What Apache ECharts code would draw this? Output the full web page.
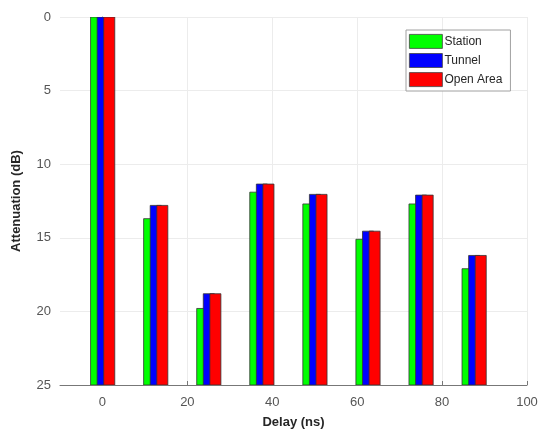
<!DOCTYPE html>
<html>
<head>
<meta charset="utf-8">
<script src="https://cdn.jsdelivr.net/npm/echarts@6/dist/echarts.min.js"></script>
<style>html,body{margin:0;padding:0;background:#fff;}#c{width:538px;height:430px;}</style>
</head>
<body>
<div id="c"></div>
<script>
const delays = [0, 12.5, 25, 37.5, 50, 62.5, 75, 87.5];
const station = [0, 13.7, 19.8, 11.9, 12.7, 15.1, 12.7, 17.1];
const tunnel = [0, 12.8, 18.8, 11.35, 12.05, 14.55, 12.1, 16.2];
const openArea = [0, 12.8, 18.8, 11.35, 12.05, 14.55, 12.1, 16.2];
const xTicks = [0, 20, 40, 60, 80, 100];
const seriesNames = ['Station', 'Tunnel', 'Open Area'];

const colors = ['#00ff00', '#0000ff', '#ff0000'];
const offsets = [-1.5, 0.05, 1.6];
const barW = 2.6;
const yMax = 25;

function makeSeries(name, vals, idx) {
  return {
    name: name,
    type: 'custom',
    clip: true,
    itemStyle: { color: colors[idx], borderColor: '#333', borderWidth: 0.8 },
    data: delays.map((d, i) => [d, vals[i]]),
    encode: { x: 0, y: 1 },
    renderItem: function (params, api) {
      const x = api.value(0), v = api.value(1);
      const p1 = api.coord([x + offsets[idx] - barW / 2, v]);
      const p2 = api.coord([x + offsets[idx] + barW / 2, yMax]);
      return {
        type: 'rect',
        shape: { x: p1[0], y: p1[1], width: p2[0] - p1[0], height: p2[1] - p1[1] },
        style: { fill: colors[idx], stroke: '#333', lineWidth: 0.8 }
      };
    }
  };
}

const chart = echarts.init(document.getElementById('c'), null, { renderer: 'canvas' });
chart.setOption({
  animation: false,
  backgroundColor: '#fff',
  textStyle: { fontFamily: 'Liberation Sans, Arial, sans-serif' },
  grid: { left: 60, top: 17, right: 11, bottom: 45, containLabel: false, outerBoundsMode: 'none' },
  legend: {
    data: seriesNames,
    orient: 'vertical',
    left: 406,
    top: 30,
    itemWidth: 33,
    itemHeight: 14,
    itemGap: 4.3,
    padding: [4, 8, 4, 3],
    icon: 'rect',
    backgroundColor: '#fff',
    borderColor: '#a0a0a0',
    borderWidth: 1,
    itemStyle: { borderColor: '#444', borderWidth: 0.8 },
    textStyle: { fontSize: 12, color: '#262626', lineHeight: 14, padding: [0, 0, 0, -3] }
  },
  xAxis: {
    type: 'value',
    min: -10,
    max: 100,
    name: 'Delay (ns)',
    nameLocation: 'middle',
    nameGap: 31,
    nameTextStyle: { fontWeight: 'bold', fontSize: 13, color: '#262626' },
    axisLine: { show: true, onZero: false, lineStyle: { color: '#777', width: 1 } },
    axisTick: { show: true, inside: true, length: 4, customValues: xTicks, lineStyle: { color: '#777' } },
    axisLabel: { customValues: xTicks, fontSize: 13, color: '#555', margin: 11 },
    splitLine: { show: true, lineStyle: { color: '#ececec', width: 1 } }
  },
  yAxis: {
    type: 'value',
    inverse: true,
    min: 0,
    max: 25,
    interval: 5,
    name: 'Attenuation (dB)',
    nameLocation: 'middle',
    nameGap: 37,
    nameTextStyle: { fontWeight: 'bold', fontSize: 13, color: '#262626' },
    axisLine: { show: true, lineStyle: { color: '#777', width: 1 } },
    axisTick: { show: true, inside: true, length: 4, lineStyle: { color: '#777' } },
    axisLabel: { fontSize: 13, color: '#555', margin: 9 },
    splitLine: { show: true, lineStyle: { color: '#ececec', width: 1 } }
  },
  series: [
    makeSeries(seriesNames[0], station, 0),
    makeSeries(seriesNames[1], tunnel, 1),
    makeSeries(seriesNames[2], openArea, 2)
  ]
});
</script>
</body>
</html>
